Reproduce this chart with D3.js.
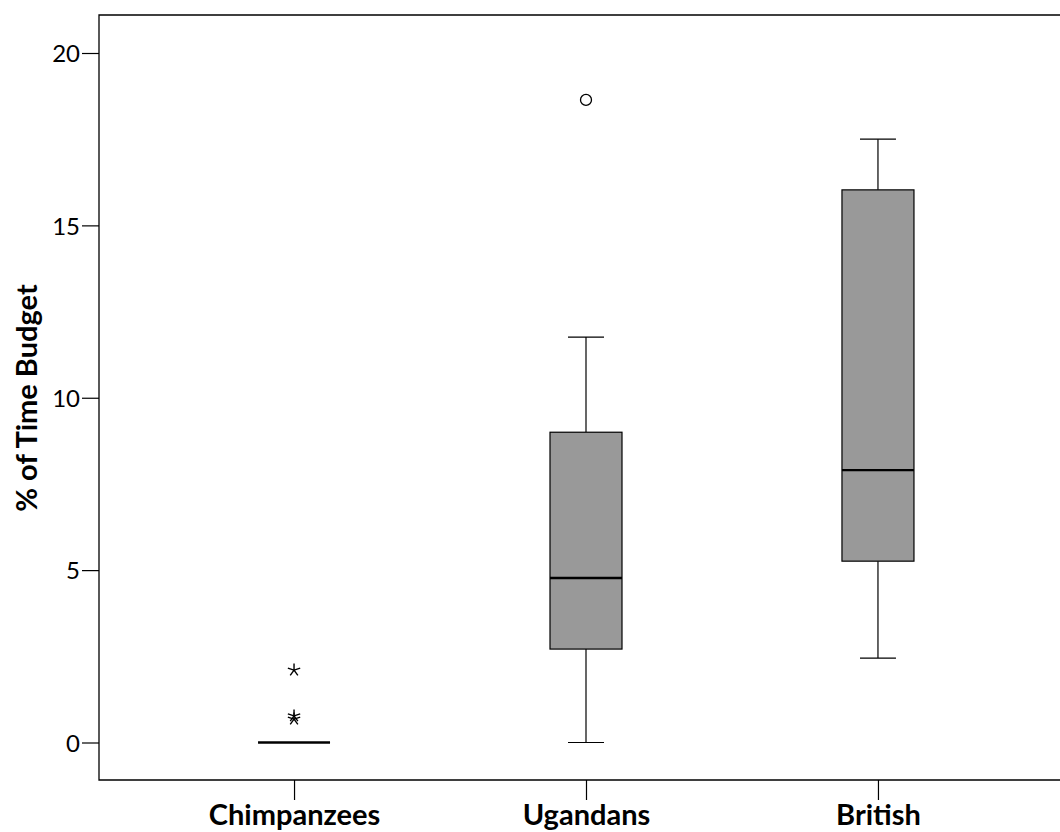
<!DOCTYPE html>
<html>
<head>
<meta charset="utf-8">
<script src="https://cdn.jsdelivr.net/npm/d3@7"></script>
<style>
  html, body { margin: 0; padding: 0; background: #fff; }
  svg { display: block; }
</style>
</head>
<body>
<svg id="chart" width="1060" height="832"></svg>
<script>
// Box-plot summaries per group
const categories = ["Chimpanzees", "Ugandans", "British"];
const whiskerLow  = [0, 0, 2.45];
const q1          = [0, 2.71, 5.26];
const medians     = [0, 4.77, 7.9];
const q3          = [0, 9.0, 16.03];
const whiskerHigh = [0, 11.76, 17.5];
// Mild outliers (circles) and extreme outliers (asterisks)
const outlierGroups = ["Ugandans"];
const outlierValues = [18.64];
const extremeGroups = ["Chimpanzees", "Chimpanzees", "Chimpanzees"];
const extremeValues = [2.1, 0.77, 0.68];
const yTicks = [0, 5, 10, 15, 20];
const yTitle = "% of Time Budget";

const svg = d3.select("#chart");
const frame = { left: 99, top: 15, right: 1073, bottom: 780 };

const x = d3.scalePoint()
  .domain(categories)
  .range([frame.left, frame.right])
  .padding(0.668);

const y = d3.scaleLinear()
  .domain([0, 20])
  .range([742.5, 53]);

const boxW = 72;
const font = "Lato, 'Open Sans', 'DejaVu Sans', sans-serif";

// Frame (left, top, bottom edges)
svg.append("path")
  .attr("d", `M${frame.right},${frame.top}H${frame.left}V${frame.bottom}H${frame.right}`)
  .attr("fill", "none")
  .attr("stroke", "#000")
  .attr("stroke-width", 1.3);

// Y axis
const yAxis = svg.append("g")
  .attr("transform", `translate(${frame.left},0)`)
  .call(d3.axisLeft(y).tickValues(yTicks).tickSize(17).tickPadding(2).tickFormat(d3.format("d")));
yAxis.select(".domain").remove();
yAxis.selectAll(".tick line").attr("stroke", "#000").attr("stroke-width", 1.2);
yAxis.selectAll(".tick text")
  .attr("fill", "#000")
  .style("font-family", font)
  .style("font-size", "24px")
  .attr("dy", "0.36em");

// X axis
const xAxis = svg.append("g")
  .attr("transform", `translate(0,${frame.bottom})`)
  .call(d3.axisBottom(x).tickSize(20).tickPadding(4));
xAxis.select(".domain").remove();
xAxis.selectAll(".tick line").attr("stroke", "#000").attr("stroke-width", 1.2);
xAxis.selectAll(".tick text")
  .attr("fill", "#000")
  .style("font-family", font)
  .style("font-size", "29px")
  .style("font-weight", "bold");

// Y axis title
svg.append("text")
  .attr("transform", `translate(37,398) rotate(-90)`)
  .attr("text-anchor", "middle")
  .style("font-family", font)
  .style("font-size", "29px")
  .style("font-weight", "bold")
  .text(yTitle);

// Boxes
const groups = categories.map((c, i) => ({
  cat: c, lo: whiskerLow[i], q1: q1[i], med: medians[i], q3: q3[i], hi: whiskerHigh[i]
}));

const g = svg.append("g").selectAll("g").data(groups).join("g")
  .attr("transform", d => `translate(${x(d.cat)},0)`);

// whiskers
g.filter(d => d.hi > d.q3).append("line")
  .attr("y1", d => y(d.q3)).attr("y2", d => y(d.hi))
  .attr("stroke", "#000").attr("stroke-width", 1.2);
g.filter(d => d.lo < d.q1).append("line")
  .attr("y1", d => y(d.q1)).attr("y2", d => y(d.lo))
  .attr("stroke", "#000").attr("stroke-width", 1.2);
g.filter(d => d.hi > d.q3).append("line")
  .attr("x1", -boxW / 4).attr("x2", boxW / 4)
  .attr("y1", d => y(d.hi)).attr("y2", d => y(d.hi))
  .attr("stroke", "#000").attr("stroke-width", 1.2);
g.filter(d => d.lo < d.q1).append("line")
  .attr("x1", -boxW / 4).attr("x2", boxW / 4)
  .attr("y1", d => y(d.lo)).attr("y2", d => y(d.lo))
  .attr("stroke", "#000").attr("stroke-width", 1.2);

// box
g.filter(d => d.q3 > d.q1).append("rect")
  .attr("x", -boxW / 2).attr("width", boxW)
  .attr("y", d => y(d.q3)).attr("height", d => y(d.q1) - y(d.q3))
  .attr("fill", "#999999").attr("stroke", "#000").attr("stroke-width", 1.2);

// median
g.append("line")
  .attr("x1", -boxW / 2).attr("x2", boxW / 2)
  .attr("y1", d => y(d.med)).attr("y2", d => y(d.med))
  .attr("stroke", "#000").attr("stroke-width", 2.4);

// Circle outliers
svg.append("g").selectAll("circle")
  .data(outlierValues.map((v, i) => ({ cat: outlierGroups[i], v })))
  .join("circle")
  .attr("cx", d => x(d.cat)).attr("cy", d => y(d.v))
  .attr("r", 5.5)
  .attr("fill", "none").attr("stroke", "#000").attr("stroke-width", 1.3);

// Asterisk outliers
function asterisk(r) {
  const p = d3.path();
  for (let k = 0; k < 5; k++) {
    const a = -Math.PI / 2 + k * 2 * Math.PI / 5;
    p.moveTo(0, 0);
    p.lineTo(r * Math.cos(a), r * Math.sin(a));
  }
  return p.toString();
}
svg.append("g").selectAll("path")
  .data(extremeValues.map((v, i) => ({ cat: extremeGroups[i], v })))
  .join("path")
  .attr("transform", d => `translate(${x(d.cat)},${y(d.v)})`)
  .attr("d", asterisk(6.5))
  .attr("fill", "none").attr("stroke", "#000").attr("stroke-width", 1.4);
</script>
</body>
</html>
